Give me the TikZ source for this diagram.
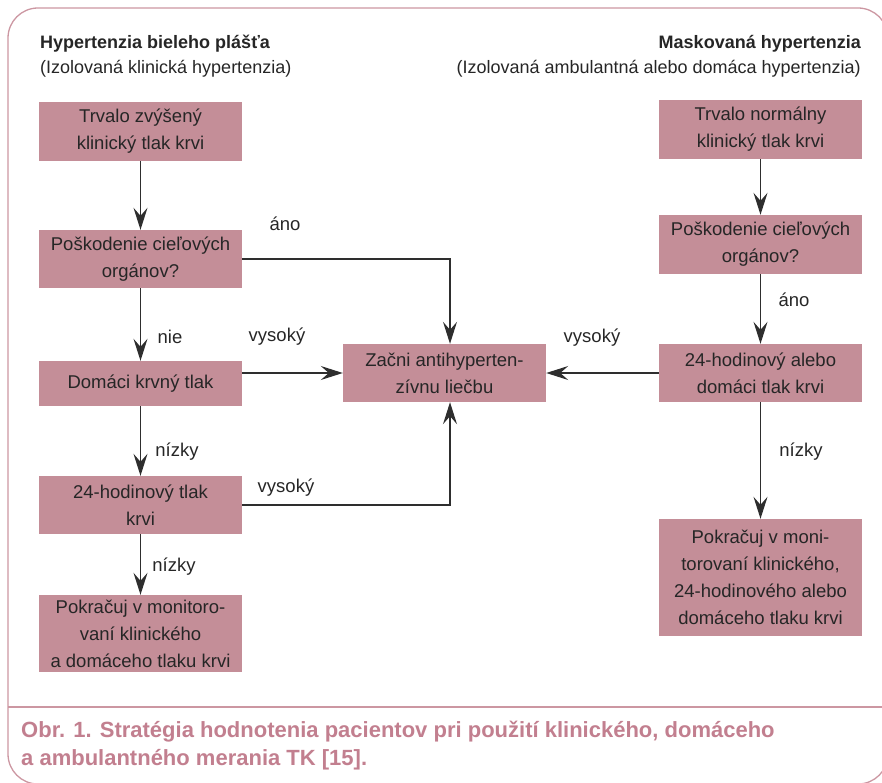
\documentclass[tikz,border=0pt]{standalone}
\usepackage{fontspec}
\setmainfont{Liberation Sans}
\newfontfamily\capfont{Liberation Sans Bold}
\usetikzlibrary{arrows.meta,calc}
\definecolor{boxfill}{HTML}{C48E98}
\definecolor{framecol}{HTML}{CC97A2}
\definecolor{capcol}{HTML}{C27F8F}
\definecolor{txt}{HTML}{262626}
\definecolor{linecol}{HTML}{2E2E2E}
\tikzset{
  fbox/.style={fill=boxfill, draw=none, text=txt, align=center, minimum width=203pt,
    inner sep=0pt, font=\fontsize{18.5}{27}\selectfont},
  arr/.style={draw=linecol, line width=1.3pt, -{Stealth[length=22pt,width=14pt,inset=8pt]}},
  lbl/.style={text=txt, font=\fontsize{18.5}{27}\selectfont, inner sep=0pt},
  hdr/.style={text=txt, font=\fontsize{18}{25}\selectfont, inner sep=0pt}
}
\begin{document}
\begin{tikzpicture}[x=1pt,y=-1pt]
\useasboundingbox (0,0) rectangle (882,783);
% frame
\draw[framecol, line width=1.3pt, rounded corners=30pt] (8,8) rectangle (888,784);
\draw[framecol, line width=2pt] (8,707) -- (888,707);
% headers
\node[hdr, anchor=base west, font=\bfseries\fontsize{18}{25}\selectfont] (h1) at (40,49) {Hypertenzia bieleho plášťa};
\node[hdr, anchor=base west] (h2) at (40,74) {(Izolovaná klinická hypertenzia)};
\node[hdr, anchor=base east, font=\bfseries\fontsize{18}{25}\selectfont] (h3) at (861,49) {Maskovaná hypertenzia};
\node[hdr, anchor=base east] (h4) at (861,74) {(Izolovaná ambulantná alebo domáca hypertenzia)};
% left column
\node[fbox, minimum height=59pt] (b1) at (140.5,131.5) {Trvalo zvýšený\\klinický tlak krvi};
\node[fbox, minimum height=58pt] (b2) at (140.5,259) {Poškodenie cieľových\\orgánov?};
\node[fbox, minimum height=45pt] (b3) at (140.5,383.5) {Domáci krvný tlak};
\node[fbox, minimum height=58pt] (b4) at (140.5,505) {24-hodinový tlak\\krvi};
\node[fbox, minimum height=77pt] (b5) at (140.5,633.5) {Pokračuj v monitoro-\\vaní klinického\\a domáceho tlaku krvi};
% center
\node[fbox, minimum height=58pt] (c) at (444.5,373) {Začni antihyperten-\\zívnu liečbu};
% right column
\node[fbox, minimum height=59pt] (r1) at (760.5,129.5) {Trvalo normálny\\klinický tlak krvi};
\node[fbox, minimum height=59pt] (r2) at (760.5,244.5) {Poškodenie cieľových\\orgánov?};
\node[fbox, minimum height=58pt] (r3) at (760.5,373) {24-hodinový alebo\\domáci tlak krvi};
\node[fbox, minimum height=117pt] (r4) at (760.5,577.5) {Pokračuj v moni-\\torovaní klinického,\\24-hodinového alebo\\domáceho tlaku krvi};
% connectors
\draw[arr] (b1) -- (b2);
\draw[arr] (b2) -- (b3);
\draw[arr] (b3) -- (b4);
\draw[arr] (b4) -- (b5);
\draw[arr] (b2.east) -| ([xshift=5.5pt]c.north);
\draw[arr] (c.west -| b3.east) -- (c.west);
\draw[arr] (b4.east) -| ([xshift=5.5pt]c.south);
\draw[arr] (r3.west) -- (c.east);
\draw[arr] (r1) -- (r2);
\draw[arr] (r2) -- (r3);
\draw[arr] (r3) -- (r4);
% labels
\node[lbl] (l1) at (285,224) {áno};
\node[lbl] (l2) at (170,337) {nie};
\node[lbl] (l3) at (277,337) {vysoký};
\node[lbl] (l4) at (177,452) {nízky};
\node[lbl] (l5) at (286,488) {vysoký};
\node[lbl] (l6) at (174,567) {nízky};
\node[lbl] (l7) at (592,338) {vysoký};
\node[lbl] (l8) at (794,300) {áno};
\node[lbl] (l9) at (801,452) {nízky};
% caption
\node[anchor=base west, inner sep=0pt, text=capcol, align=left, font=\capfont\fontsize{22}{27.5}\selectfont] (cap) at (21,765)
  {Obr. 1. Stratégia hodnotenia pacientov pri použití klinického, domáceho\\a ambulantného merania TK [15].};
\end{tikzpicture}
\end{document}
